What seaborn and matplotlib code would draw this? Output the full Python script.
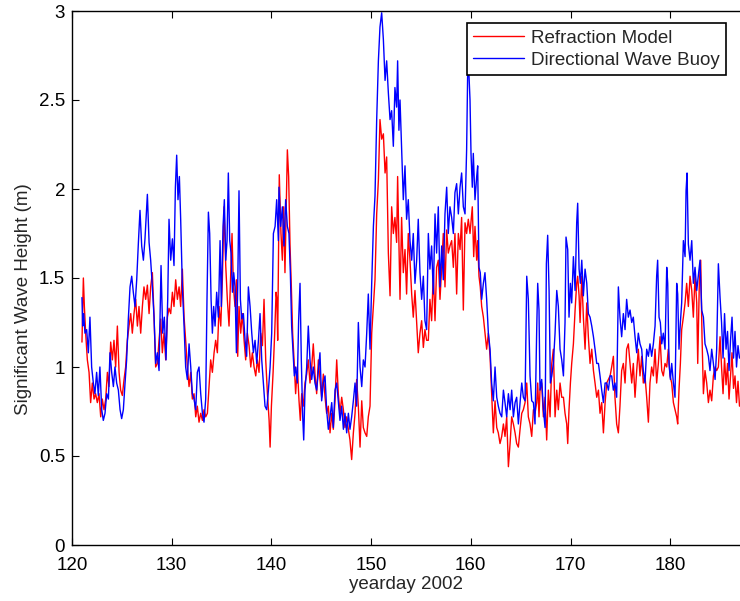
import numpy as np
import pandas as pd
import matplotlib
matplotlib.use("Agg")
import matplotlib.pyplot as plt
import seaborn as sns

# ---------------- data ----------------
day_buoy = [
    121.00, 121.07, 121.17, 121.30, 121.47, 121.64, 121.80, 121.97, 122.14, 122.30,
    122.47, 122.64, 122.80, 122.98, 123.14, 123.31, 123.48, 123.65, 123.81, 123.98,
    124.15, 124.31, 124.48, 124.65, 124.82, 124.98, 125.15, 125.32, 125.48, 125.65,
    125.82, 125.99, 126.15, 126.32, 126.49, 126.66, 126.82, 126.99, 127.16, 127.32,
    127.56, 127.73, 127.89, 128.06, 128.23, 128.39, 128.56, 128.73, 128.93, 129.10,
    129.26, 129.43, 129.60, 129.73,
    129.90, 130.07, 130.23, 130.37, 130.50, 130.63, 130.77, 130.90, 131.07, 131.24,
    131.40, 131.57, 131.74, 131.91, 132.07, 132.24, 132.41, 132.57, 132.74, 132.91,
    133.08, 133.24, 133.41, 133.54, 133.68, 133.81, 133.95, 134.08, 134.21, 134.35,
    134.51, 134.68, 134.85, 134.98, 135.15, 135.28, 135.42, 135.55, 135.68, 135.82,
    135.95, 136.09, 136.22, 136.35, 136.49, 136.62, 136.75, 136.89, 137.02, 137.19,
    137.36, 137.52, 137.69, 137.86, 138.03, 138.19, 138.36, 138.53, 138.70, 138.86,
    139.03, 139.20, 139.36, 139.53, 139.70, 139.87, 140.03, 140.20, 140.37, 140.53,
    140.70,
    140.76, 140.93, 141.10, 141.26, 141.43, 141.60, 141.76, 141.90, 142.03, 142.17,
    142.30, 142.43, 142.60, 142.73, 142.87, 143.00, 143.14, 143.24, 143.37, 143.54,
    143.70, 143.87, 144.04, 144.20, 144.37, 144.54, 144.71, 144.87, 145.04, 145.21,
    145.38, 145.54, 145.71, 145.88, 146.05, 146.21, 146.38, 146.55, 146.71, 146.88,
    147.05, 147.22, 147.38, 147.55, 147.72, 147.88, 148.05, 148.22, 148.39, 148.55,
    148.72, 148.89, 149.06, 149.22, 149.39, 149.56, 149.72, 149.89, 150.06, 150.23,
    150.39, 150.56, 150.73, 150.89, 151.06, 151.23, 151.40, 151.56, 151.73, 151.90,
    152.06, 152.23, 152.39, 152.56, 152.66, 152.79, 152.90, 153.06, 153.23, 153.40,
    153.56, 153.73, 153.90, 154.07, 154.23, 154.40, 154.57, 154.73, 154.90, 155.07,
    155.24, 155.40, 155.57, 155.74, 155.90, 156.07, 156.24, 156.41, 156.57, 156.74,
    156.91, 157.08, 157.24, 157.41, 157.58, 157.74, 157.91, 158.08, 158.25, 158.41,
    158.58, 158.75, 158.92, 159.08, 159.25, 159.42, 159.58, 159.68, 159.78, 159.92,
    160.02, 160.15, 160.25, 160.42, 160.59, 160.69, 160.82, 160.95, 161.09, 161.26,
    161.42, 161.59, 161.76, 161.93, 162.09, 162.26, 162.43, 162.60, 162.76, 162.93,
    163.10, 163.27, 163.43, 163.60, 163.77, 163.94, 164.10, 164.27, 164.44, 164.60,
    164.77, 164.94, 165.11, 165.27, 165.44, 165.61, 165.77, 165.94, 166.11, 166.28,
    166.44, 166.61, 166.71, 166.84, 166.94, 167.11, 167.28, 167.45, 167.58, 167.71,
    167.85, 167.98, 168.12, 168.28, 168.45, 168.62, 168.78, 168.95, 169.12, 169.29,
    169.45, 169.55, 169.72, 169.85, 169.99, 170.12, 170.29, 170.46, 170.62, 170.72,
    170.86, 170.99, 171.13, 171.29, 171.46, 171.63, 171.79, 171.96, 172.13, 172.30,
    172.46, 172.63, 172.80, 172.96, 173.13, 173.30, 173.47, 173.63, 173.80, 173.97,
    174.13, 174.30, 174.46, 174.63, 174.80, 174.96, 175.13, 175.30, 175.47, 175.63,
    175.80, 175.97, 176.14, 176.30, 176.47, 176.64, 176.80, 176.97, 177.14, 177.30,
    177.47, 177.64, 177.81, 177.97, 178.14, 178.31, 178.48, 178.64, 178.74, 178.88,
    179.01, 179.15, 179.31, 179.48, 179.65, 179.75, 179.88, 180.02, 180.15, 180.32,
    180.48, 180.65, 180.75, 180.88, 181.02, 181.15, 181.32, 181.49, 181.59, 181.69,
    181.82, 181.99, 182.16, 182.32, 182.49, 182.66, 182.82, 182.99, 183.16, 183.33,
    183.49, 183.66, 183.83, 183.99, 184.16, 184.33, 184.50, 184.66, 184.83, 185.00,
    185.15, 185.30, 185.45, 185.60, 185.75, 185.90, 186.05, 186.20, 186.35, 186.50,
    186.65, 186.80, 186.95,
]
hs_buoy = [
    1.39, 1.23, 1.30, 1.19, 1.21, 1.08, 1.28, 1.00, 0.91, 0.85,
    0.97, 0.84, 1.00, 0.76, 0.70, 0.74, 0.85, 0.82, 1.08, 0.97,
    0.89, 1.00, 0.91, 0.87, 0.76, 0.71, 0.76, 0.91, 1.04, 1.27,
    1.45, 1.51, 1.42, 1.34, 1.49, 1.70, 1.88, 1.68, 1.60, 1.72,
    1.97, 1.70, 1.60, 1.45, 1.28, 1.02, 1.08, 0.98, 1.57, 1.19,
    1.28, 1.04, 1.38, 1.83,
    1.60, 1.72, 1.57, 2.01, 2.19, 1.94, 2.07, 1.83, 1.45, 1.23,
    1.00, 0.93, 1.13, 1.00, 0.85, 0.82, 0.76, 0.97, 1.00, 0.85,
    0.74, 0.69, 0.82, 1.38, 1.87, 1.75, 1.38, 1.19, 1.34, 1.23,
    1.42, 1.28, 1.71, 1.34, 1.79, 1.94, 1.60, 1.71, 2.09, 1.71,
    1.64, 1.42, 1.53, 1.45, 1.08, 1.45, 1.99, 1.38, 1.27, 1.30,
    1.15, 1.06, 1.45, 1.34, 1.19, 1.08, 1.15, 1.02, 1.15, 1.30,
    1.04, 0.91, 0.78, 0.76, 0.87, 1.00, 1.19, 1.75, 1.79, 1.94,
    1.71,
    2.01, 1.79, 1.90, 1.68, 1.94, 1.79, 1.75, 1.53, 1.23, 1.08,
    0.95, 1.00, 0.91, 1.26, 1.47, 1.04, 0.72, 0.59, 0.87, 1.00,
    1.23, 1.04, 0.93, 1.00, 0.91, 0.87, 0.98, 1.08, 0.81, 0.91,
    0.95, 0.76, 0.65, 0.72, 0.80, 0.66, 0.87, 0.91, 0.81, 0.70,
    0.78, 0.65, 0.74, 0.63, 0.74, 0.65, 0.72, 0.81, 0.91, 0.78,
    1.25, 1.00, 0.89, 1.04, 1.00, 1.19, 1.41, 1.10, 1.47, 1.79,
    1.96, 2.39, 2.72, 2.91, 2.99, 2.84, 2.61, 2.72, 2.54, 2.39,
    2.44, 2.24, 2.57, 2.46, 2.72, 2.33, 2.50, 2.22, 1.94, 2.13,
    1.83, 1.94, 1.71, 1.60, 1.75, 1.47, 1.60, 1.83, 1.53, 1.38,
    1.51, 1.26, 1.21, 1.75, 1.55, 1.68, 1.41, 1.86, 1.64, 1.90,
    1.45, 1.68, 1.49, 1.86, 2.01, 1.75, 1.90, 1.84, 1.75, 1.98,
    2.03, 1.86, 2.01, 2.09, 1.90, 1.86, 2.22, 2.63, 2.69, 2.50,
    2.20, 2.01, 2.20, 1.94, 2.07, 2.13, 1.56, 1.53, 1.38, 1.47,
    1.53, 1.38, 1.19, 1.10, 0.91, 0.81, 1.00, 0.83, 0.78, 0.74,
    0.72, 0.87, 0.80, 0.72, 0.85, 0.76, 0.87, 0.72, 0.80, 0.83,
    0.68, 0.80, 0.91, 0.83, 0.81, 1.51, 1.38, 0.95, 0.81, 0.80,
    0.68, 1.21, 1.47, 1.32, 0.87, 0.93, 0.76, 0.66, 1.58, 1.74,
    1.43, 0.91, 0.95, 1.02, 1.19, 1.43, 1.34, 1.10, 1.04, 0.95,
    1.25, 1.73, 1.66, 1.28, 1.47, 1.36, 1.62, 1.43, 1.81, 1.92,
    1.55, 1.47, 1.60, 1.40, 1.55, 1.47, 1.30, 1.28, 1.23, 1.17,
    1.10, 1.02, 1.02, 0.95, 0.87, 0.80, 0.91, 0.91, 0.87, 0.95,
    0.95, 0.87, 0.91, 0.83, 1.45, 1.28, 1.17, 1.30, 1.21, 1.38,
    1.28, 1.32, 1.25, 1.28, 1.17, 1.08, 1.19, 1.13, 1.10, 0.98,
    0.91, 1.10, 1.06, 1.13, 1.06, 1.13, 1.23, 1.51, 1.60, 1.28,
    1.25, 1.13, 1.19, 1.10, 1.56, 1.47, 1.02, 0.93, 1.02, 0.91,
    0.83, 1.47, 1.41, 1.10, 1.25, 1.36, 1.71, 1.62, 1.99, 2.09,
    1.69, 1.60, 1.71, 1.47, 1.56, 1.43, 1.51, 1.60, 1.32, 1.28,
    1.13, 1.10, 1.06, 0.98, 1.10, 1.02, 0.93, 1.10, 1.58, 1.39,
    1.25, 1.05, 1.30, 1.10, 1.20, 0.98, 1.15, 1.28, 1.05, 1.20,
    1.00, 1.12, 1.05,
]

day_model = [
    121.00, 121.14, 121.24, 121.37, 121.54, 121.71, 121.87, 122.04, 122.21, 122.37,
    122.54, 122.71, 122.88, 123.04, 123.21, 123.38, 123.55, 123.71, 123.88, 124.05,
    124.21, 124.38, 124.55, 124.72, 124.88, 125.05, 125.22, 125.38, 125.55, 125.72,
    125.89, 126.05, 126.22, 126.39, 126.56, 126.72, 126.89, 127.06, 127.22, 127.39,
    127.56, 127.73, 127.89, 128.06, 128.23, 128.39, 128.56, 128.73, 128.90, 129.06,
    129.23, 129.40, 129.57, 129.73,
    129.90, 130.07, 130.23, 130.40, 130.57, 130.74, 130.90, 131.07, 131.24, 131.40,
    131.57, 131.74, 131.91, 132.07, 132.24, 132.41, 132.57, 132.74, 132.91, 133.08,
    133.24, 133.41, 133.58, 133.74, 133.91, 134.08, 134.25, 134.41, 134.58, 134.75,
    134.92, 135.08, 135.25, 135.42, 135.58, 135.75, 135.92, 136.05, 136.19, 136.35,
    136.49, 136.62, 136.75, 136.92, 137.09, 137.26, 137.42, 137.59, 137.76, 137.93,
    138.09, 138.26, 138.43, 138.59, 138.76, 138.93, 139.10, 139.26, 139.43, 139.60,
    139.77, 139.87, 140.00, 140.17, 140.33, 140.47, 140.55, 140.63,
    140.79, 140.96, 141.10, 141.23, 141.36, 141.50, 141.60, 141.73, 141.87, 142.00,
    142.13, 142.27, 142.43, 142.60, 142.77, 142.90, 143.04, 143.20, 143.37, 143.54,
    143.70, 143.87, 144.04, 144.20, 144.37, 144.54, 144.71, 144.87, 145.04, 145.21,
    145.38, 145.54, 145.71, 145.88, 146.05, 146.21, 146.38, 146.55, 146.71, 146.88,
    147.05, 147.22, 147.38, 147.55, 147.72, 147.88, 148.05, 148.22, 148.39, 148.55,
    148.72, 148.89, 149.06, 149.22, 149.39, 149.56, 149.72, 149.89, 150.06, 150.23,
    150.39, 150.56, 150.73, 150.89, 151.06, 151.23, 151.40, 151.56, 151.73, 151.90,
    152.06, 152.23, 152.39, 152.56, 152.66, 152.79, 152.90, 153.06, 153.23, 153.40,
    153.56, 153.73, 153.90, 154.07, 154.23, 154.40, 154.57, 154.73, 154.90, 155.07,
    155.24, 155.40, 155.57, 155.74, 155.90, 156.07, 156.24, 156.41, 156.57, 156.74,
    156.91, 157.08, 157.24, 157.41, 157.58, 157.74, 157.91, 158.08, 158.25, 158.41,
    158.58, 158.75, 158.92, 159.08, 159.25, 159.42, 159.58, 159.75, 159.92, 160.15,
    160.29, 160.42, 160.59, 160.69, 160.82, 160.95, 161.09, 161.26, 161.42, 161.59,
    161.76, 161.93, 162.09, 162.26, 162.43, 162.60, 162.76, 162.93,
    163.10, 163.27, 163.43, 163.60, 163.77, 163.94, 164.10, 164.27, 164.44, 164.60,
    164.77, 164.94, 165.11, 165.27, 165.44, 165.61, 165.77, 165.94, 166.11, 166.28,
    166.44, 166.61, 166.71, 166.84, 166.94, 167.11, 167.28, 167.45, 167.61, 167.78,
    167.95, 168.12, 168.28, 168.45, 168.62, 168.78, 168.95, 169.12, 169.29, 169.45,
    169.62, 169.72, 169.85, 169.99, 170.12, 170.29, 170.46, 170.62, 170.72, 170.86,
    170.96, 171.13, 171.29, 171.46, 171.63, 171.79, 171.96, 172.13, 172.30, 172.46,
    172.63, 172.80, 172.96, 173.13, 173.30, 173.47, 173.63, 173.80, 173.97,
    174.13, 174.30, 174.46, 174.63, 174.80, 174.96, 175.13, 175.30, 175.47, 175.63,
    175.80, 175.97, 176.14, 176.30, 176.47, 176.64, 176.80, 176.97, 177.14, 177.30,
    177.47, 177.64, 177.81, 177.97, 178.14, 178.31, 178.48, 178.64, 178.81, 178.98,
    179.15, 179.31, 179.48, 179.65, 179.81, 179.98, 180.15, 180.32, 180.48, 180.65,
    180.75, 180.88, 181.02, 181.15, 181.32, 181.49, 181.65, 181.82, 181.99, 182.16,
    182.32, 182.49, 182.66, 182.76, 182.92, 183.06, 183.19, 183.33, 183.49, 183.66,
    183.83, 183.99, 184.16, 184.33, 184.50, 184.66, 184.83, 185.00,
    185.15, 185.30, 185.45, 185.60, 185.75, 185.90, 186.05, 186.20, 186.35, 186.50,
    186.65, 186.80, 186.95,
]
hs_model = [
    1.14, 1.50, 1.34, 1.19, 1.04, 0.97, 0.80, 0.91, 0.82, 0.85,
    0.80, 0.85, 0.72, 0.82, 0.76, 0.82, 0.97, 0.89, 1.14, 1.04,
    1.15, 1.00, 1.23, 0.97, 0.87, 0.84, 0.93, 1.00, 1.15, 1.23,
    1.30, 1.19, 1.30, 1.38, 1.23, 1.34, 1.19, 1.34, 1.45, 1.38,
    1.46, 1.30, 1.45, 1.53, 1.28, 1.00, 1.02, 1.15, 1.27, 1.08,
    1.19, 1.04, 1.28, 1.33,
    1.30, 1.42, 1.34, 1.49, 1.38, 1.45, 1.34, 1.55, 1.28, 1.15,
    1.00, 0.89, 0.97, 0.82, 0.85, 0.72, 0.78, 0.69, 0.74, 0.70,
    0.76, 0.72, 0.74, 0.89, 1.04, 0.97, 1.08, 1.15, 1.08, 1.34,
    1.23, 1.49, 1.90, 1.57, 1.38, 1.23, 1.53, 1.75, 1.45, 1.34,
    1.49, 1.06, 1.34, 1.19, 1.30, 1.15, 1.04, 1.19, 1.12, 1.00,
    1.08, 1.00, 0.95, 1.04, 0.97, 1.19, 1.12, 1.38, 1.04, 0.85,
    0.70, 0.55, 0.78, 0.97, 1.19, 1.42, 1.38, 1.15,
    2.08, 1.75, 1.60, 1.90, 1.53, 1.94, 2.22, 2.07, 1.68, 1.45,
    1.19, 1.04, 0.85, 1.00, 0.81, 0.70, 0.85, 0.78, 0.91, 0.96,
    1.04, 0.91, 1.00, 1.13, 0.96, 0.85, 1.04, 0.93, 0.83, 0.96,
    0.83, 0.74, 0.78, 0.63, 0.74, 0.65, 0.81, 1.04, 0.85, 0.74,
    0.83, 0.76, 0.66, 0.72, 0.65, 0.59, 0.48, 0.63, 0.74, 0.93,
    0.78, 0.55, 0.81, 0.66, 0.63, 0.61, 0.72, 0.78, 1.19, 1.34,
    1.49, 1.86, 2.05, 2.39, 2.28, 2.31, 2.09, 2.18, 1.64, 1.40,
    1.90, 1.75, 1.84, 1.70, 2.07, 1.68, 1.38, 1.84, 1.53, 1.66,
    1.41, 1.75, 1.60, 1.41, 1.28, 1.43, 1.25, 1.08, 1.19, 1.26,
    1.11, 1.21, 1.15, 1.15, 1.38, 1.26, 1.53, 1.26, 1.56, 1.60,
    1.38, 1.56, 1.75, 1.45, 1.77, 1.64, 1.68, 1.71, 1.56, 1.75,
    1.41, 1.75, 1.66, 1.84, 1.32, 1.81, 1.75, 1.83, 1.75, 1.90,
    1.62, 1.79, 1.60, 1.71, 1.51, 1.45, 1.34, 1.28, 1.19, 1.10,
    1.19, 1.06, 0.85, 0.63, 0.81, 0.66, 0.63, 0.57,
    0.61, 0.68, 0.61, 0.72, 0.44, 0.57, 0.72, 0.68, 0.63, 0.57,
    0.55, 0.65, 0.74, 0.76, 0.80, 0.91, 0.72, 0.68, 0.61, 0.76,
    0.74, 0.80, 0.91, 0.72, 0.87, 0.91, 0.72, 0.83, 0.59, 0.87,
    0.72, 1.02, 1.10, 0.72, 0.87, 0.76, 0.91, 0.83, 0.83, 0.74,
    0.68, 0.57, 0.76, 0.91, 1.02, 1.13, 1.32, 1.47, 1.51, 1.40,
    1.25, 1.51, 1.28, 1.10, 1.36, 1.17, 1.02, 1.10, 0.98, 0.91,
    0.83, 0.87, 0.74, 0.80, 0.63, 0.80, 0.91, 0.93, 0.95,
    1.00, 1.06, 0.83, 0.68, 0.63, 0.78, 0.98, 1.02, 0.91, 1.10,
    1.13, 1.02, 0.91, 1.02, 0.83, 0.98, 1.10, 0.95, 1.06, 0.91,
    0.95, 0.83, 0.69, 0.91, 1.00, 0.95, 1.10, 0.91, 1.02, 1.17,
    0.98, 0.95, 1.02, 1.00, 1.10, 0.95, 0.91, 0.80, 0.76, 0.72,
    0.68, 0.87, 1.02, 1.21, 1.28, 1.36, 1.47, 1.34, 1.51, 1.43,
    1.28, 1.51, 1.36, 1.02, 1.47, 1.60, 1.17, 0.85, 0.98, 0.91,
    0.80, 0.87, 0.81, 0.95, 1.00, 0.98, 1.00, 1.17,
    1.00, 0.85, 1.05, 0.90, 1.02, 0.82, 0.95, 1.08, 0.88, 0.95,
    0.80, 0.92, 0.78,
]

series_names = ["Refraction Model", "Directional Wave Buoy"]
series_colors = ["#ff0000", "#0000ff"]
x_ticks = [120, 130, 140, 150, 160, 170, 180]
y_ticks = [0, 0.5, 1, 1.5, 2, 2.5, 3]
y_tick_labels = ["0", "0.5", "1", "1.5", "2", "2.5", "3"]

# ---------------- figure ----------------
sns.set_style("white")
plt.rcParams["font.family"] = ["Liberation Sans", "DejaVu Sans"]

df = pd.concat([
    pd.DataFrame({"day": day_model, "hs": hs_model, "series": series_names[0]}),
    pd.DataFrame({"day": day_buoy, "hs": hs_buoy, "series": series_names[1]}),
], ignore_index=True)

fig = plt.figure(figsize=(7.40, 6.01), dpi=100)
ax = fig.add_axes([72 / 740, 56 / 601, 668 / 740, 534 / 601])

sns.lineplot(data=df, x="day", y="hs", hue="series", hue_order=series_names,
             palette=dict(zip(series_names, series_colors)),
             estimator=None, sort=False, linewidth=1.0, ax=ax)

ax.set_xlim(120, 187)
ax.set_ylim(0, 3)
ax.set_xticks(x_ticks)
ax.set_xticklabels([str(t) for t in x_ticks])
ax.set_yticks(y_ticks)
ax.set_yticklabels(y_tick_labels)

fs = 13.5
ax.tick_params(axis="both", direction="in", length=5, width=0.8, colors="black",
               labelsize=fs, top=True, right=False, bottom=True, left=True)
ax.tick_params(axis="x", pad=9)
ax.tick_params(axis="y", pad=5)

for side in ["left", "bottom", "top"]:
    ax.spines[side].set_color("black")
    ax.spines[side].set_linewidth(1.0)
ax.spines["right"].set_visible(False)

ax.set_xlabel("yearday 2002", fontsize=fs, labelpad=1)
ax.set_ylabel("Significant Wave Height (m)", fontsize=fs)
ax.yaxis.set_label_coords(-0.06, 0.46)

handles, labels = ax.get_legend_handles_labels()
leg = ax.legend(handles, labels, loc="upper right", bbox_to_anchor=(0.979, 0.9775),
                frameon=True, fancybox=False, shadow=False, framealpha=1,
                edgecolor="black", fontsize=fs, borderpad=0.35, handlelength=2.7,
                handletextpad=0.35, labelspacing=0.25, borderaxespad=0)
leg.get_frame().set_linewidth(1.2)
for ln in leg.get_lines():
    ln.set_linewidth(1.0)

fig.savefig("out.png", dpi=100)
